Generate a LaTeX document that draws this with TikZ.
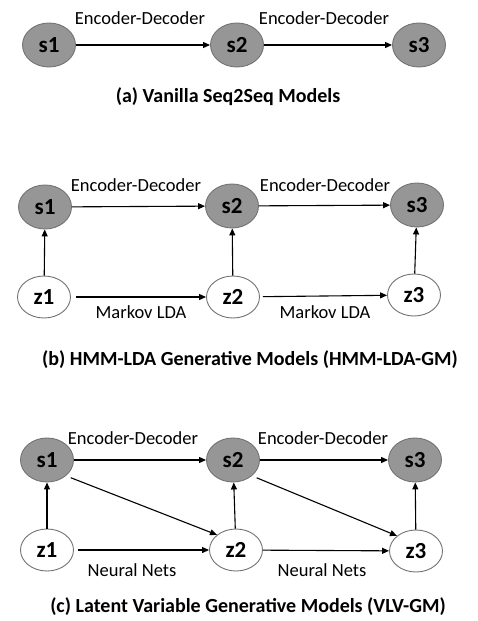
\documentclass[tikz,border=0pt]{standalone}
\usepackage{fontspec}
\setmainfont{Carlito}
\usetikzlibrary{shapes.geometric,arrows.meta}
\definecolor{sfill}{RGB}{150,150,150}
\definecolor{nborder}{RGB}{115,115,115}
\tikzset{
  snode/.style={ellipse,draw=nborder,fill=sfill,line width=0.9pt,minimum width=53pt,minimum height=44pt,inner sep=0pt,font=\fontsize{23}{26}\selectfont\bfseries},
  znode/.style={ellipse,draw=nborder,fill=white,line width=0.9pt,minimum width=53pt,minimum height=42pt,inner sep=0pt,font=\fontsize{23}{26}\selectfont\bfseries},
  arr/.style={-{Triangle[length=7pt,width=6pt]},line width=1.1pt,black},
  lbl/.style={font=\fontsize{18.5}{21}\selectfont,inner sep=0pt},
  captxt/.style={font=\fontsize{20}{24}\selectfont\bfseries,inner sep=0pt}
}
\begin{document}
\begin{tikzpicture}[x=1pt,y=-1pt]
\useasboundingbox[fill=white] (0,0) rectangle (478,621);
% (a)
\node[snode] (as1) at (49,45) {s1};
\node[snode] (as2) at (237,45) {s2};
\node[snode] (as3) at (419,45) {s3};
\draw[arr] (as1) -- (as2);
\draw[arr] (as2) -- (as3);
\node[lbl] (ala) at (140,18) {Encoder-Decoder};
\node[lbl] (alb) at (324,18) {Encoder-Decoder};
\node[captxt] (acap) at (228,97) {(a) Vanilla Seq2Seq Models};
% (b)
\node[snode] (bs1) at (45,207) {s1};
\node[snode] (bs2) at (232,206) {s2};
\node[snode] (bs3) at (417,205) {s3};
\node[znode] (bz1) at (44,297) {z1};
\node[znode] (bz2) at (233,297) {z2};
\node[znode] (bz3) at (414,295) {z3};
\draw[arr] (bs1) -- (bs2);
\draw[arr] (bs2) -- (bs3);
\draw[arr] (bz1) -- (bs1);
\draw[arr] (bz2) -- (bs2);
\draw[arr] (bz3) -- (bs3);
\draw[arr,shorten <=5pt] (bz1) -- (bz2);
\draw[arr,shorten <=3pt] (bz2) -- (bz3);
\node[lbl] (bla) at (136,185) {Encoder-Decoder};
\node[lbl] (blb) at (325,185) {Encoder-Decoder};
\node[lbl] (blc) at (141,312) {Markov LDA};
\node[lbl] (bld) at (325,312) {Markov LDA};
\node[captxt] (bcap) at (250,360) {(b) HMM-LDA Generative Models (HMM-LDA-GM)};
% (c)
\node[snode] (cs1) at (47,460) {s1};
\node[snode] (cs2) at (233,460) {s2};
\node[snode] (cs3) at (415,460) {s3};
\node[znode] (cz1) at (47,550) {z1};
\node[znode] (cz2) at (236,550) {z2};
\node[znode] (cz3) at (416,551) {z3};
\draw[arr] (cs1) -- (cs2);
\draw[arr] (cs2) -- (cs3);
\draw[arr] (cz1) -- (cs1);
\draw[arr] (cz2) -- (cs2);
\draw[arr] (cz3) -- (cs3);
\draw[arr,shorten <=4pt] (cz1) -- (cz2);
\draw[arr] (cz2) -- (cz3);
\draw[arr,shorten <=5pt] (cs1.south east) -- (cz2.north west);
\draw[arr,shorten <=5pt] (cs2.south east) -- (cz3.north west);
\node[lbl] (cla) at (133,438) {Encoder-Decoder};
\node[lbl] (clb) at (323,438) {Encoder-Decoder};
\node[lbl] (clc) at (132,570) {Neural Nets};
\node[lbl] (cld) at (322,570) {Neural Nets};
\node[captxt] (ccap) at (248,607) {(c) Latent Variable Generative Models (VLV-GM)};
\end{tikzpicture}
\end{document}
